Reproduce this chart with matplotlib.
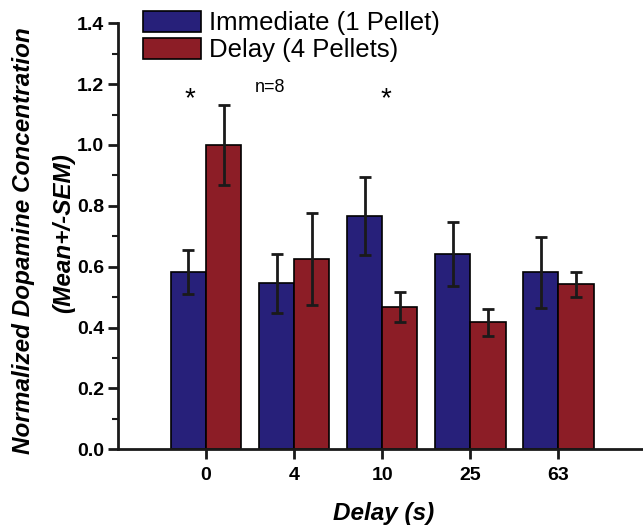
import numpy as np
import matplotlib
matplotlib.use('Agg')
import matplotlib.pyplot as plt
from matplotlib.ticker import MultipleLocator, FormatStrFormatter

plt.rcParams['font.family'] = ['Liberation Sans', 'DejaVu Sans']

delays = ['0', '4', '10', '25', '63']
immediate = [0.583, 0.545, 0.768, 0.641, 0.582]
immediate_sem = [0.073, 0.096, 0.128, 0.105, 0.117]
delayed = [1.0, 0.625, 0.467, 0.417, 0.542]
delayed_sem = [0.133, 0.150, 0.050, 0.045, 0.042]

blue = '#27207a'
red = '#8c1d26'

fig = plt.figure(figsize=(6.43, 5.26), dpi=100)
ax = fig.add_axes([0.1835, 0.1458, 0.8165, 0.81])

x = np.arange(len(delays))
w = 0.4
err_kw = dict(ecolor='#1a1a1a', elinewidth=2, capsize=4, capthick=2)
ax.bar(x - w / 2, immediate, w, yerr=immediate_sem, color=blue, edgecolor='black',
       linewidth=1.2, error_kw=err_kw, label='Immediate (1 Pellet)')
ax.bar(x + w / 2, delayed, w, yerr=delayed_sem, color=red, edgecolor='black',
       linewidth=1.2, error_kw=err_kw, label='Delay (4 Pellets)')

ax.set_xlim(-1, 4.96)
ax.set_ylim(0, 1.4)
ax.set_xticks(x)
ax.set_xticklabels(delays)
ax.yaxis.set_major_locator(MultipleLocator(0.2))
ax.yaxis.set_minor_locator(MultipleLocator(0.1))
ax.yaxis.set_major_formatter(FormatStrFormatter('%.1f'))

for s in ['top', 'right']:
    ax.spines[s].set_visible(False)
for s in ['left', 'bottom']:
    ax.spines[s].set_linewidth(2)
    ax.spines[s].set_color('#1a1a1a')
ax.tick_params(axis='both', which='major', direction='out', length=7, width=2,
               labelsize=14, color='#1a1a1a', pad=3)
ax.tick_params(axis='y', which='minor', direction='out', length=4, width=1.5,
               color='#1a1a1a')
ax.tick_params(axis='x', pad=6)
for lab in ax.get_xticklabels() + ax.get_yticklabels():
    lab.set_fontweight('bold')

lbl = dict(fontsize=17.5, fontweight='bold', fontstyle='italic',
           rotation_mode='anchor', ha='center', va='baseline')
fig.text(383.5 / 643, 1 - 520 / 526, 'Delay (s)', **lbl)
fig.text(30 / 643, 1 - 240.5 / 526, 'Normalized Dopamine Concentration',
         rotation=90, **lbl)
fig.text(70 / 643, 1 - 233 / 526, '(Mean+/-SEM)', rotation=90, **lbl)

ax.text(-0.18, 1.15, '*', ha='center', va='center', fontsize=20)
ax.text(2.04, 1.15, '*', ha='center', va='center', fontsize=20)
ax.text(0.73, 1.19, 'n=8', ha='center', va='center', fontsize=13)

fig.legend(loc='upper left', bbox_to_anchor=(143 / 643, 1 - 11 / 526),
           frameon=False, fontsize=18.5, handlelength=2.25, handleheight=0.88,
           handletextpad=0.32, labelspacing=0.1, borderpad=0, borderaxespad=0)

fig.savefig('out.png', dpi=100)
